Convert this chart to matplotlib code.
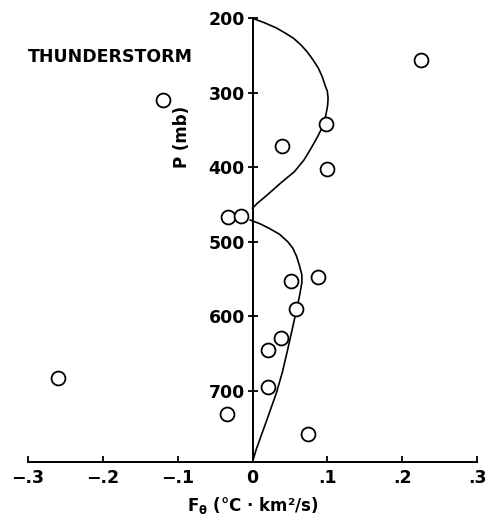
import numpy as np
import matplotlib
matplotlib.use("Agg")
import matplotlib.pyplot as plt

# observed flux points (F_theta, pressure in mb)
obs_flux = [0.225, -0.260, -0.119, 0.098, 0.040, 0.100, -0.033, -0.015,
            0.052, 0.087, 0.058, 0.038, 0.021, 0.021, -0.034, 0.074]
obs_p = [256, 683, 310, 342, 372, 403, 467, 466,
         553, 548, 591, 629, 646, 695, 731, 758]

# fitted profile, upper lobe
upper_p = [200, 206, 213, 220, 227, 236, 245, 256, 267, 278, 290, 298, 307,
           316, 325, 334, 343, 359, 375, 390, 406, 421, 437, 448, 455]
upper_flux = [0.0, 0.016, 0.032, 0.044, 0.055, 0.065, 0.073, 0.081, 0.088,
              0.093, 0.097, 0.100, 0.101, 0.1005, 0.099, 0.097, 0.095, 0.087,
              0.078, 0.069, 0.056, 0.038, 0.020, 0.007, 0.0]

# fitted profile, lower lobe
lower_p = [471, 476, 482, 490, 500, 509, 520, 533, 545, 555, 572, 591, 618,
           645, 675, 703, 740, 779, 796]
lower_flux = [-0.003, 0.010, 0.022, 0.036, 0.047, 0.054, 0.059, 0.063, 0.066,
              0.066, 0.063, 0.059, 0.053, 0.047, 0.040, 0.032, 0.019, 0.005, 0.0]

x_ticks = [-0.3, -0.2, -0.1, 0, 0.1, 0.2, 0.3]
x_labels = ["\u2212.3", "\u2212.2", "\u2212.1", "0", ".1", ".2", ".3"]
y_ticks = [200, 300, 400, 500, 600, 700]

plt.rcParams["font.family"] = "DejaVu Sans"
plt.rcParams["font.weight"] = "bold"
plt.rcParams["mathtext.default"] = "bf"

fig = plt.figure(figsize=(4.91, 5.25), dpi=100)
ax = fig.add_axes([28 / 491, 1 - 462 / 525, 449 / 491, (462 - 18.3) / 525])

ax.plot(upper_flux, upper_p, color="black", lw=1.2, solid_joinstyle="round")
ax.plot(lower_flux, lower_p, color="black", lw=1.2, solid_joinstyle="round")
ax.plot(obs_flux, obs_p, "o", ms=10, mfc="white", mec="black", mew=1.3, ls="none")

ax.set_xlim(-0.3, 0.3)
ax.set_ylim(796, 200)

for s in ["top", "right"]:
    ax.spines[s].set_visible(False)
ax.spines["left"].set_position(("data", 0))
ax.spines["left"].set_linewidth(1.4)
ax.spines["bottom"].set_linewidth(1.4)

ax.set_xticks(x_ticks)
ax.set_xticklabels(x_labels)
ax.set_yticks(y_ticks)
ax.tick_params(axis="x", direction="in", length=4, width=1.3, labelsize=12.5, pad=5)
ax.tick_params(axis="y", direction="inout", length=7, width=1.3, labelsize=12.5, pad=2)

ax.set_xlabel("F$_\\theta$ (°C · km²/s)", fontsize=12, fontweight="bold", labelpad=6)
ax.text(-0.094, 360, "P (mb)", rotation=90, ha="center", va="center",
        fontsize=12, fontweight="bold")
ax.text(-0.3, 252, "THUNDERSTORM", ha="left", va="center",
        fontsize=12.5, fontweight="bold")

fig.savefig("out.png", dpi=100)
